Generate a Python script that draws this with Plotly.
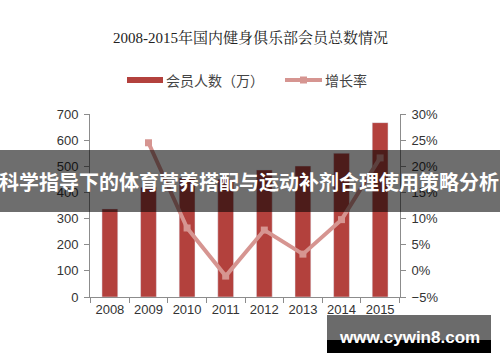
import plotly.graph_objects as go

years = ["2008", "2009", "2010", "2011", "2012", "2013", "2014", "2015"]
members = [337, 420, 455, 451, 486, 501, 550, 667]          # 会员人数（万）
growth = [None, 0.245, 0.082, -0.010, 0.078, 0.032, 0.098, 0.216]  # 增长率
title_text = "2008-2015年国内健身俱乐部会员总数情况"
bar_name = "会员人数（万）"
line_name = "增长率"
banner_text = "科学指导下的体育营养搭配与运动补剂合理使用策略分析"
watermark_text = "www.cywin8.com"

BAR_C = "#b3413d"
LINE_C = "#d69591"
AX_C = "#8c8c8c"
TXT_C = "#333333"

W, H = 500, 362
L, R, T, B = 90, 100, 114, 65
pw, ph = W - L - R, H - T - B


def px(x):
    return (x - L) / pw


def py(y):
    return (H - B - y) / ph


fig = go.Figure()
fig.add_trace(go.Bar(x=years, y=members, name=bar_name, marker_color=BAR_C,
                     width=0.41, showlegend=False))
fig.add_trace(go.Scatter(x=years, y=growth, name=line_name, yaxis="y2",
                         mode="lines+markers", line=dict(color=LINE_C, width=4),
                         marker=dict(symbol="square", size=7, color=LINE_C),
                         showlegend=False))

tickfont = dict(family="Liberation Sans, Arial, sans-serif", size=13, color=TXT_C)

fig.update_layout(
    width=W, height=H,
    margin=dict(l=L, r=R, t=T, b=B),
    paper_bgcolor="white", plot_bgcolor="white",
    xaxis=dict(type="category", showline=True, linecolor=AX_C, linewidth=1,
               ticks="outside", tickson="boundaries", ticklen=5, tickcolor=AX_C,
               tickfont=tickfont, showgrid=False, zeroline=False),
    yaxis=dict(range=[0, 700], dtick=100, showline=True, linecolor=AX_C, linewidth=1,
               ticks="outside", ticklen=5, tickcolor=AX_C, tickfont=tickfont,
               ticklabelstandoff=3, showgrid=False, zeroline=False),
    yaxis2=dict(range=[-0.05, 0.30], dtick=0.05, tickformat=".0%", overlaying="y",
                side="right", showline=True, linecolor=AX_C, linewidth=1,
                ticks="outside", ticklen=5, tickcolor=AX_C, tickfont=tickfont,
                ticklabelstandoff=3, showgrid=False, zeroline=False),
    showlegend=False,
)

shapes = []
annotations = []

# title
annotations.append(dict(text=title_text, xref="paper", yref="paper", x=px(250), y=py(37),
                        showarrow=False, xanchor="center", yanchor="middle",
                        font=dict(family="Liberation Serif, Noto Serif CJK SC, Noto Sans CJK SC",
                                  size=15, color="#222222")))

# custom legend
legfont = dict(family="Noto Sans CJK SC, sans-serif", size=14, color="#444444")
shapes.append(dict(type="rect", xref="paper", yref="paper", x0=px(127), x1=px(163),
                   y0=py(77), y1=py(83), fillcolor=BAR_C, line=dict(width=0)))
annotations.append(dict(text=bar_name, xref="paper", yref="paper", x=px(164), y=py(80),
                        showarrow=False, xanchor="left", yanchor="middle", font=legfont))
shapes.append(dict(type="line", xref="paper", yref="paper", x0=px(285), x1=px(322),
                   y0=py(80), y1=py(80), line=dict(color=LINE_C, width=4)))
shapes.append(dict(type="rect", xref="paper", yref="paper", x0=px(300), x1=px(307),
                   y0=py(76.5), y1=py(83.5), fillcolor=LINE_C, line=dict(width=0)))
annotations.append(dict(text=line_name, xref="paper", yref="paper", x=px(323), y=py(80),
                        showarrow=False, xanchor="left", yanchor="middle", font=legfont))

# banner overlay
shapes.append(dict(type="rect", xref="paper", yref="paper", x0=px(0), x1=px(500),
                   y0=py(212), y1=py(150), fillcolor="rgba(0,0,0,0.57)",
                   line=dict(width=0), layer="above"))
annotations.append(dict(text="<b>" + banner_text + "</b>", xref="paper", yref="paper",
                        x=px(249), y=py(181), showarrow=False, xanchor="center",
                        yanchor="middle",
                        font=dict(family="Noto Sans CJK SC, sans-serif", size=20,
                                  color="white")))

# watermark
shapes.append(dict(type="rect", xref="paper", yref="paper", x0=px(327), x1=px(491),
                   y0=py(340), y1=py(315), fillcolor="rgba(0,0,0,0.58)",
                   line=dict(width=0), layer="above"))
shapes.append(dict(type="rect", xref="paper", yref="paper", x0=px(327), x1=px(491),
                   y0=py(353), y1=py(340), fillcolor="black",
                   line=dict(width=0), layer="above"))
annotations.append(dict(text="<b>" + watermark_text + "</b>", xref="paper", yref="paper",
                        x=px(409), y=py(337), showarrow=False, xanchor="center",
                        yanchor="middle",
                        font=dict(family="Liberation Sans, Arial, sans-serif", size=17,
                                  color="white")))

fig.update_layout(shapes=shapes, annotations=annotations)
fig.write_html("out.html", config={"displayModeBar": False},
               post_script="document.body.style.margin='0';document.body.style.padding='0';")
